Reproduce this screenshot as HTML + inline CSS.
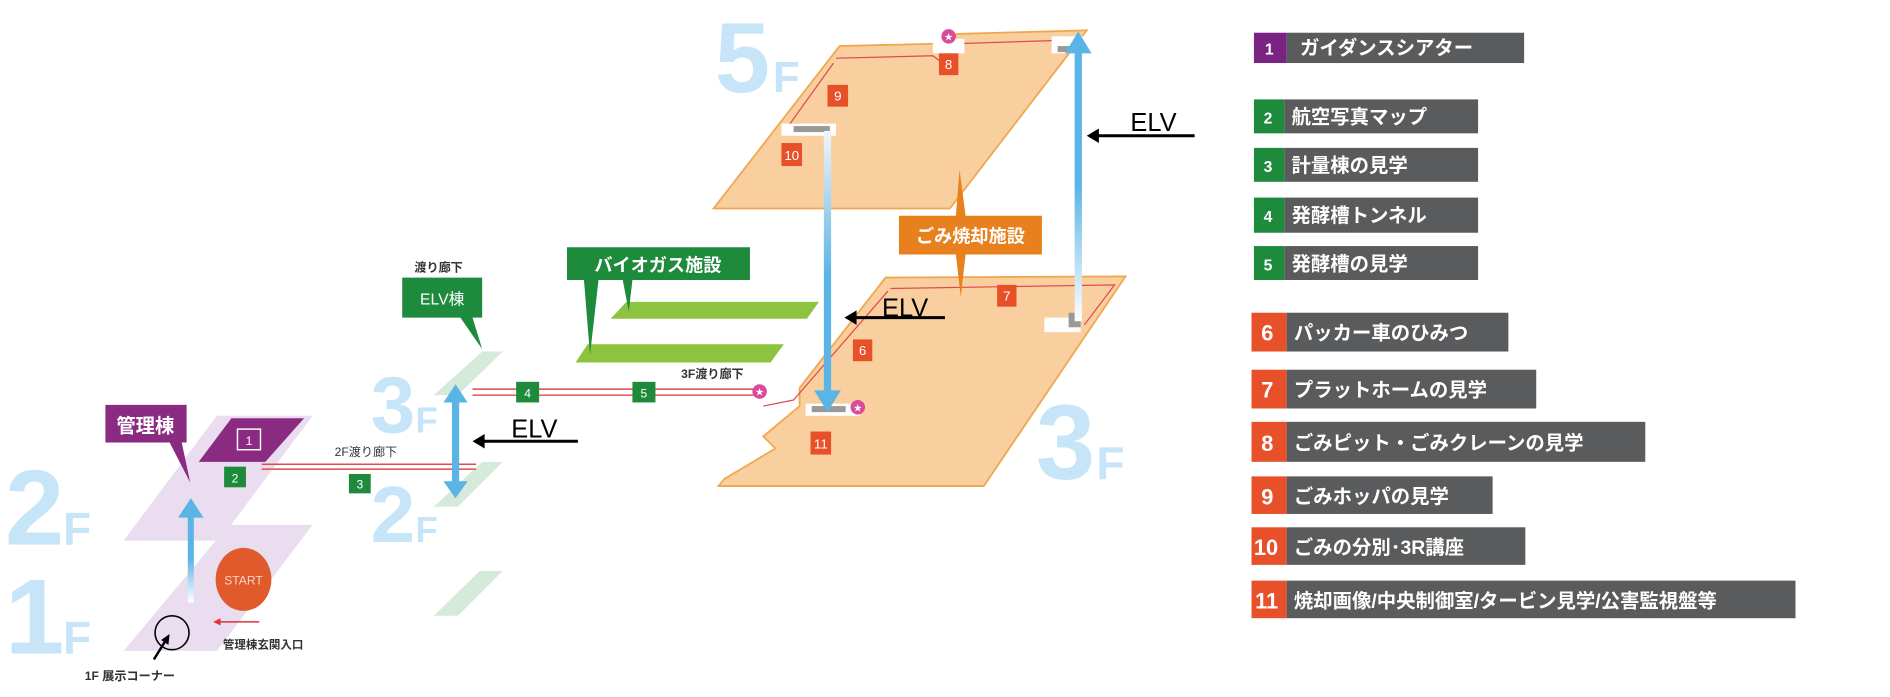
<!DOCTYPE html>
<html><head><meta charset="utf-8"><style>
html,body{margin:0;padding:0;background:#fff;width:1890px;height:697px;overflow:hidden}
svg{display:block}
text{font-family:"Liberation Sans","Noto Sans CJK JP",sans-serif}
</style></head><body>
<svg width="1890" height="697" viewBox="0 0 1560 575" preserveAspectRatio="none" xmlns="http://www.w3.org/2000/svg">
<defs>
<linearGradient id="gu" x1="0" y1="1" x2="0" y2="0"><stop offset="0" stop-color="#fff"/><stop offset="0.5" stop-color="#5ab4e5"/><stop offset="1" stop-color="#5ab4e5"/></linearGradient>
<linearGradient id="gd" x1="0" y1="0" x2="0" y2="1"><stop offset="0" stop-color="#f2f6f8"/><stop offset="0.55" stop-color="#5ab4e5"/><stop offset="1" stop-color="#5ab4e5"/></linearGradient>
</defs>
<!-- floor labels -->
<g fill="#c6e5f8" font-weight="bold">
<text x="4" y="449" font-size="88">2</text><text x="52" y="449" font-size="38">F</text>
<text x="4" y="539" font-size="88">1</text><text x="52" y="539" font-size="38">F</text>
<text x="306" y="357" font-size="66">3</text><text x="343" y="357" font-size="30">F</text>
<text x="306" y="447" font-size="66">2</text><text x="343" y="447" font-size="30">F</text>
<text x="590" y="76" font-size="82">5</text><text x="638" y="76" font-size="36">F</text>
<text x="855" y="395" font-size="88">3</text><text x="905" y="395" font-size="38">F</text>
</g>
<!-- admin floors -->
<polygon points="179,343 258,343 181,446 102,446" fill="#e9ddef"/>
<polygon points="189,433 258,433 179,537 102,537" fill="#e9ddef"/>
<polygon points="191,345 251,345 219,381 164,381" fill="#8a2a80"/>
<rect x="196" y="354" width="19" height="17" fill="none" stroke="#fff" stroke-width="1.2"/>
<text x="205.5" y="367" font-size="10" fill="#fff" text-anchor="middle">1</text>
<polygon points="87,334 154,334 154,365 150,365 157,398 140,365 87,365" fill="#8a2a80"/>
<text x="120" y="357" font-size="16" font-weight="bold" fill="#fff" text-anchor="middle">管理棟</text>
<!-- ELV building floors -->
<polygon points="398,290 415,290 378,326 358,326" fill="#d6eadc"/>
<polygon points="398,381 415,381 378,418 358,418" fill="#d6eadc"/>
<polygon points="396,471 415,471 378,508 358,508" fill="#d6eadc"/>
<!-- 2F corridor -->
<line x1="216" y1="383" x2="393" y2="383" stroke="#e04a4a" stroke-width="1.2"/>
<line x1="216" y1="387" x2="393" y2="387" stroke="#e04a4a" stroke-width="1.2"/>
<rect x="185" y="385" width="18" height="17" fill="#1d8a3c"/><text x="194" y="398" font-size="10" fill="#fff" text-anchor="middle">2</text>
<rect x="288" y="391" width="18" height="16" fill="#1d8a3c"/><text x="297" y="403" font-size="10" fill="#fff" text-anchor="middle">3</text>
<text x="302" y="376" font-size="10" text-anchor="middle" fill="#333">2F渡り廊下</text>
<!-- 1F -->
<rect x="155" y="425" width="5" height="72" fill="url(#gu)"/>
<polygon points="147,427 168,427 157.5,411" fill="#5ab4e5"/>
<ellipse cx="201" cy="478" rx="23" ry="26" fill="#e05a2b"/>
<text x="201" y="482" font-size="10" fill="#f8d6c4" text-anchor="middle">START</text>
<line x1="180" y1="513" x2="214" y2="513" stroke="#d33" stroke-width="1.2"/><polygon points="176,513 182,510 182,516" fill="#d33"/>
<text x="184" y="535" font-size="9.5" font-weight="bold" fill="#333">管理棟玄関入口</text>
<circle cx="142" cy="522" r="14" fill="none" stroke="#000" stroke-width="1.3"/>
<line x1="127" y1="544" x2="137" y2="528" stroke="#000" stroke-width="2"/><polygon points="140,523 133,528 139,532" fill="#000"/>
<text x="70" y="561" font-size="10" font-weight="bold" fill="#333">1F 展示コーナー</text>
<!-- mid elevator arrow -->
<rect x="373" y="330" width="6" height="68" fill="#5ab4e5"/>
<polygon points="366,332 386,332 376,317" fill="#5ab4e5"/>
<polygon points="366,397 386,397 376,411" fill="#5ab4e5"/>
<text x="422" y="361" font-size="21" fill="#000">ELV</text>
<line x1="398" y1="364" x2="477" y2="364" stroke="#000" stroke-width="2.5"/><polygon points="390,364 400,358 400,370" fill="#000"/>
<!-- ELV building label -->
<text x="362" y="224" font-size="10" font-weight="bold" text-anchor="middle" fill="#333">渡り廊下</text>
<polygon points="332,229 398,229 398,262 390,262 398,288 380,262 332,262" fill="#1d8a3c"/>
<text x="365" y="251" font-size="13" fill="#fff" text-anchor="middle">ELV棟</text>
<!-- biogas -->
<polygon points="517,249 676,249 666,263 504,263" fill="#8cc43f"/>
<polygon points="485,284 647,284 636,299 475,299" fill="#8cc43f"/>
<polygon points="468,204 619,204 619,231 522,231 519,257 514,231 494,231 487,293 482,231 468,231" fill="#1d8a3c"/>
<text x="543" y="224" font-size="15" font-weight="bold" fill="#fff" text-anchor="middle">バイオガス施設</text>
<!-- 3F corridor -->
<line x1="390" y1="321" x2="627" y2="321" stroke="#e04a4a" stroke-width="1.2"/>
<line x1="390" y1="326" x2="627" y2="326" stroke="#e04a4a" stroke-width="1.2"/>
<rect x="426" y="315" width="19" height="17" fill="#1d8a3c"/><text x="435.5" y="328" font-size="10" fill="#fff" text-anchor="middle">4</text>
<rect x="522" y="315" width="19" height="17" fill="#1d8a3c"/><text x="531.5" y="328" font-size="10" fill="#fff" text-anchor="middle">5</text>
<text x="588" y="312" font-size="10" font-weight="bold" text-anchor="middle" fill="#333">3F渡り廊下</text>
<!-- 5F floor -->
<polygon points="693,38 775,36 790,28 897,25 784,172 589,172" fill="#f9cf9f" stroke="#f0a850" stroke-width="1.5"/>
<polyline points="690,48 770,46 778,52 790,36 885,33" fill="none" stroke="#e04a4a" stroke-width="1"/>
<polyline points="688,52 650,105" fill="none" stroke="#e04a4a" stroke-width="1"/>
<rect x="770" y="32" width="26" height="12" fill="#fff"/>
<rect x="645" y="102" width="45" height="10" fill="#fff"/><rect x="655" y="104" width="30" height="5" fill="#999"/>
<rect x="868" y="30" width="28" height="14" fill="#fff"/><rect x="873" y="38" width="12" height="5" fill="#999"/>
<circle cx="783" cy="30" r="6" fill="#d94a9a"/><text x="783" y="33" font-size="7" fill="#fff" text-anchor="middle">★</text>
<!-- 3F floor -->
<polygon points="731,229 929,228 812,401 593,401 598,395 640,370 630,360 660,335 660,320" fill="#f9cf9f" stroke="#f0a850" stroke-width="1.5"/>
<polyline points="735,238 920,235 895,268" fill="none" stroke="#e04a4a" stroke-width="1"/>
<polyline points="733,240 655,330 630,335" fill="none" stroke="#e04a4a" stroke-width="1"/>
<rect x="665" y="333" width="45" height="10" fill="#fff"/><rect x="670" y="335" width="28" height="5" fill="#999"/>
<rect x="862" y="262" width="30" height="12" fill="#fff"/><rect x="882" y="258" width="10" height="12" fill="#999"/>
<circle cx="708" cy="336" r="6" fill="#d94a9a"/><text x="708" y="339" font-size="7" fill="#fff" text-anchor="middle">★</text>
<circle cx="627" cy="323" r="6" fill="#d94a9a"/><text x="627" y="326" font-size="7" fill="#fff" text-anchor="middle">★</text>
<!-- numbered markers -->
<g fill="#e8502a"><rect x="775" y="44" width="16" height="18"/><rect x="683" y="70" width="17" height="18"/><rect x="645" y="118" width="17" height="19"/><rect x="704" y="280" width="16" height="18"/><rect x="823" y="235" width="16" height="18"/><rect x="669" y="356" width="17" height="19"/></g>
<g fill="#fff" font-size="11" text-anchor="middle"><text x="783" y="57">8</text><text x="691.5" y="83">9</text><text x="653.5" y="132">10</text><text x="712" y="293">6</text><text x="831" y="248">7</text><text x="677.5" y="370">11</text></g>
<!-- long elevator arrows -->
<rect x="680" y="108" width="6" height="218" fill="url(#gd)"/>
<polygon points="672,322 694,322 683,340" fill="#5ab4e5"/>
<rect x="887" y="40" width="6" height="225" fill="url(#gu)"/>
<polygon points="879,44 901,44 890,26" fill="#5ab4e5"/>
<text x="933" y="108" font-size="21" fill="#000">ELV</text>
<line x1="905" y1="112" x2="986" y2="112" stroke="#000" stroke-width="2.5"/><polygon points="897,112 907,106 907,118" fill="#000"/>
<text x="728" y="261" font-size="21" fill="#000">ELV</text>
<line x1="705" y1="262" x2="780" y2="262" stroke="#000" stroke-width="2.5"/><polygon points="697,262 707,256 707,268" fill="#000"/>
<!-- incineration label -->
<polygon points="792,140 797,178 860,178 860,210 797,210 793,245 789,210 742,210 742,178 789,178" fill="#e8801e"/>
<text x="801" y="200" font-size="15" font-weight="bold" fill="#fff" text-anchor="middle">ごみ焼却施設</text>
<!-- legend -->
<g font-size="16" font-weight="bold" fill="#fff">
<rect x="1035" y="27" width="27" height="25" fill="#7a2383"/><rect x="1062" y="27" width="196" height="25" fill="#5a5b5d"/><text x="1044" y="45" font-size="13">1</text><text x="1073" y="45">ガイダンスシアター</text>
<rect x="1035" y="82" width="25" height="28" fill="#1d8a3c"/><rect x="1060" y="82" width="160" height="28" fill="#5a5b5d"/><text x="1043" y="102" font-size="13">2</text><text x="1066" y="102">航空写真マップ</text>
<rect x="1035" y="122" width="25" height="28" fill="#1d8a3c"/><rect x="1060" y="122" width="160" height="28" fill="#5a5b5d"/><text x="1043" y="142" font-size="13">3</text><text x="1066" y="142">計量棟の見学</text>
<rect x="1035" y="163" width="25" height="29" fill="#1d8a3c"/><rect x="1060" y="163" width="160" height="29" fill="#5a5b5d"/><text x="1043" y="183" font-size="13">4</text><text x="1066" y="183">発酵槽トンネル</text>
<rect x="1035" y="203" width="25" height="28" fill="#1d8a3c"/><rect x="1060" y="203" width="160" height="28" fill="#5a5b5d"/><text x="1043" y="223" font-size="13">5</text><text x="1066" y="223">発酵槽の見学</text>
<rect x="1033" y="258" width="29" height="32" fill="#e8502a"/><rect x="1062" y="258" width="183" height="32" fill="#5a5b5d"/><text x="1041" y="281" font-size="18">6</text><text x="1068" y="280">パッカー車のひみつ</text>
<rect x="1033" y="305" width="29" height="32" fill="#e8502a"/><rect x="1062" y="305" width="206" height="32" fill="#5a5b5d"/><text x="1041" y="328" font-size="18">7</text><text x="1068" y="327">プラットホームの見学</text>
<rect x="1033" y="348" width="29" height="33" fill="#e8502a"/><rect x="1062" y="348" width="296" height="33" fill="#5a5b5d"/><text x="1041" y="372" font-size="18">8</text><text x="1068" y="371">ごみピット・ごみクレーンの見学</text>
<rect x="1033" y="393" width="29" height="31" fill="#e8502a"/><rect x="1062" y="393" width="170" height="31" fill="#5a5b5d"/><text x="1041" y="416" font-size="18">9</text><text x="1068" y="415">ごみホッパの見学</text>
<rect x="1033" y="435" width="29" height="31" fill="#e8502a"/><rect x="1062" y="435" width="197" height="31" fill="#5a5b5d"/><text x="1035" y="458" font-size="18">10</text><text x="1068" y="457">ごみの分別･3R講座</text>
<rect x="1033" y="479" width="29" height="31" fill="#e8502a"/><rect x="1062" y="479" width="420" height="31" fill="#5a5b5d"/><text x="1036" y="502" font-size="18">11</text><text x="1068" y="501">焼却画像/中央制御室/タービン見学/公害監視盤等</text>
</g>
</svg>
</body></html>
